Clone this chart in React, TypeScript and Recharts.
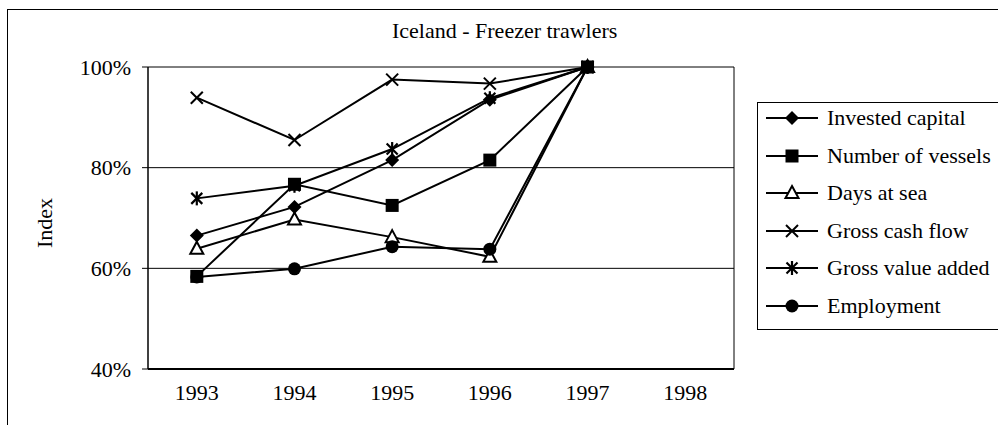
import React from "react";
import { CartesianGrid, Line, LineChart, XAxis, YAxis } from "recharts";

const years = ["1993", "1994", "1995", "1996", "1997", "1998"];
const investedCapital = [66.5, 72.2, 81.5, 93.5, 100, null];
const numberOfVessels = [58.4, 76.7, 72.5, 81.5, 100, null];
const daysAtSea = [63.9, 69.7, 66.2, 62.3, 100, null];
const grossCashFlow = [93.9, 85.5, 97.5, 96.7, 100, null];
const grossValueAdded = [73.9, 76.4, 83.7, 93.8, 100, null];
const employment = [58.3, 59.9, 64.3, 63.8, 100, null];
const yTicks = [40, 60, 80, 100];
const boundaryTicks = [0, 1, 2, 3, 4, 5, 6];

const FONT = '"Liberation Serif", "Times New Roman", serif';

type Marker = "diamond" | "square" | "triangle" | "x" | "star" | "circle";

function markerShape(kind: Marker, cx: number, cy: number, key?: string | number) {
  switch (kind) {
    case "diamond":
      return <polygon key={key} points={`${cx},${cy - 7} ${cx + 7},${cy} ${cx},${cy + 7} ${cx - 7},${cy}`} fill="#000" />;
    case "square":
      return <rect key={key} x={cx - 6.5} y={cy - 6.5} width={13} height={13} fill="#000" />;
    case "triangle":
      return (
        <polygon key={key} points={`${cx},${cy - 7} ${cx + 6.5},${cy + 5} ${cx - 6.5},${cy + 5}`} fill="#fff" stroke="#000" strokeWidth={2} />
      );
    case "x":
      return (
        <g key={key} stroke="#000" strokeWidth={2}>
          <line x1={cx - 6} y1={cy - 6} x2={cx + 6} y2={cy + 6} />
          <line x1={cx - 6} y1={cy + 6} x2={cx + 6} y2={cy - 6} />
        </g>
      );
    case "star":
      return (
        <g key={key} stroke="#000" strokeWidth={2.2}>
          <line x1={cx - 5.5} y1={cy - 5.5} x2={cx + 5.5} y2={cy + 5.5} />
          <line x1={cx - 5.5} y1={cy + 5.5} x2={cx + 5.5} y2={cy - 5.5} />
          <line x1={cx} y1={cy - 7} x2={cx} y2={cy + 7} />
        </g>
      );
    default:
      return <circle key={key} cx={cx} cy={cy} r={6.5} fill="#000" />;
  }
}

const series: { key: string; name: string; values: (number | null)[]; marker: Marker }[] = [
  { key: "ic", name: "Invested capital", values: investedCapital, marker: "diamond" },
  { key: "nv", name: "Number of vessels", values: numberOfVessels, marker: "square" },
  { key: "ds", name: "Days at sea", values: daysAtSea, marker: "triangle" },
  { key: "gcf", name: "Gross cash flow", values: grossCashFlow, marker: "x" },
  { key: "gva", name: "Gross value added", values: grossValueAdded, marker: "star" },
  { key: "emp", name: "Employment", values: employment, marker: "circle" },
];

const data = years.map((year, i) => {
  const row: Record<string, string | number | null> = { year };
  series.forEach((s) => (row[s.key] = s.values[i]));
  return row;
});

function LegendBox() {
  return (
    <div
      style={{
        position: "absolute",
        left: 757,
        top: 102,
        width: 243,
        height: 228,
        border: "1px solid #000",
        boxSizing: "border-box",
        background: "#fff",
        fontFamily: FONT,
        fontSize: 22,
        color: "#000",
      }}
    >
      {series.map((s, i) => (
        <div key={s.key} style={{ position: "absolute", left: 0, top: 15 + 37.6 * i - 12, height: 24, width: 243 }}>
          <svg width={56} height={24} style={{ position: "absolute", left: 8, top: 0 }}>
            <line x1={0} y1={12} x2={52} y2={12} stroke="#000" strokeWidth={2} />
            {markerShape(s.marker, 26, 12)}
          </svg>
          <span style={{ position: "absolute", left: 69, top: 0, lineHeight: "24px", whiteSpace: "nowrap" }}>{s.name}</span>
        </div>
      ))}
    </div>
  );
}

export default function App() {
  return (
    <div style={{ position: "fixed", left: 0, top: 0, width: 998, height: 425, background: "#fff", overflow: "hidden" }}>
      <div style={{ position: "absolute", left: 7, top: 9, width: 1100, height: 600, border: "1px solid #000" }} />
      <div
        style={{
          position: "absolute",
          left: 392,
          top: 20,
          fontFamily: FONT,
          fontSize: 22,
          lineHeight: "22px",
          color: "#000",
          whiteSpace: "nowrap",
        }}
      >
        Iceland - Freezer trawlers
      </div>
      <LineChart
        width={998}
        height={425}
        data={data}
        margin={{ top: 67, right: 263, bottom: 10, left: 0 }}
        style={{ position: "absolute", left: 0, top: 0, fontFamily: FONT }}
      >
        <CartesianGrid xAxisId="c" yAxisId="l" vertical={false} stroke="#000" strokeWidth={1} />
        <XAxis
          xAxisId="b"
          type="number"
          domain={[0, 6]}
          ticks={boundaryTicks}
          allowDataOverflow
          tick={false}
          tickSize={6}
          height={6}
          axisLine={{ stroke: "#000", strokeWidth: 2 }}
          tickLine={{ stroke: "#000" }}
        />
        <XAxis
          xAxisId="c"
          dataKey="year"
          height={40}
          padding={{ left: 48.8, right: 48.8 }}
          axisLine={false}
          tickLine={false}
          tickSize={0}
          tickMargin={9}
          tick={{ fill: "#000", fontSize: 22, fontFamily: FONT }}
        />
        <YAxis
          yAxisId="l"
          width={148}
          domain={[40, 100]}
          ticks={yTicks}
          tickFormatter={(v) => `${v}%`}
          tickSize={6}
          tickMargin={11}
          axisLine={{ stroke: "#000", strokeWidth: 1.5 }}
          tickLine={{ stroke: "#000" }}
          tick={{ fill: "#000", fontSize: 22, fontFamily: FONT }}
          label={({ viewBox }: any) => (
            <text
              x={viewBox.x + 52}
              y={viewBox.y + viewBox.height / 2 + 5}
              transform={`rotate(-90, ${viewBox.x + 52}, ${viewBox.y + viewBox.height / 2 + 5})`}
              textAnchor="middle"
              fontSize={22}
              fontFamily={FONT}
              fill="#000"
            >
              Index
            </text>
          )}
        />
        <YAxis
          yAxisId="r"
          orientation="right"
          width={1}
          domain={[40, 100]}
          ticks={yTicks}
          tick={false}
          tickLine={false}
          axisLine={{ stroke: "#000", strokeWidth: 1 }}
        />
        {series.map((s) => (
          <Line
            key={s.key}
            xAxisId="c"
            yAxisId="l"
            type="linear"
            dataKey={s.key}
            name={s.name}
            stroke="#000"
            strokeWidth={2}
            isAnimationActive={false}
            dot={(p: any) => (p.cx == null || p.cy == null ? <g key={p.key ?? p.index} /> : markerShape(s.marker, p.cx, p.cy, p.key ?? p.index))}
            activeDot={false}
          />
        ))}
      </LineChart>
      <LegendBox />
    </div>
  );
}
